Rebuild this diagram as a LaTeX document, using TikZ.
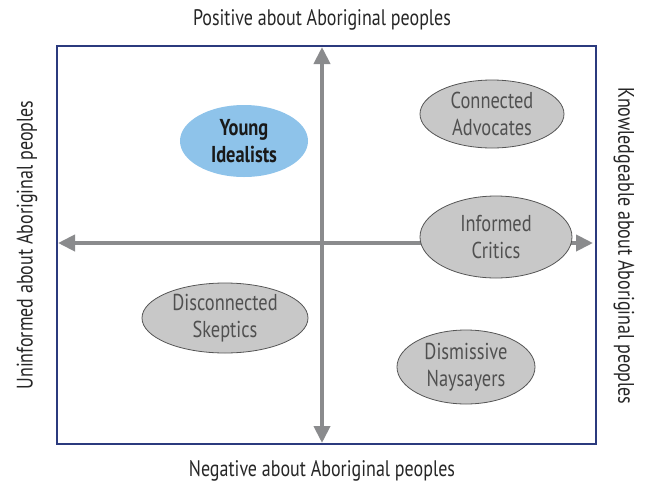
\documentclass[tikz,border=0pt]{standalone}
\usepackage{fontspec}
\setmainfont[FakeStretch=0.8]{PT Sans}
\usetikzlibrary{arrows.meta,shapes.geometric}

\definecolor{framenavy}{HTML}{2B3A7E}
\definecolor{axisgray}{HTML}{8A8B8D}
\definecolor{groupgray}{HTML}{C8C8C8}
\definecolor{groupedge}{HTML}{555555}
\definecolor{groupblue}{HTML}{8EC3EA}
\definecolor{labelgray}{HTML}{505050}

\begin{document}
\begin{tikzpicture}[x=1pt,y=-1pt,
  axis/.style={draw=axisgray, line width=4pt,
    {Triangle[width=16pt,length=17pt]}-{Triangle[width=16pt,length=17pt]}},
  group/.style={ellipse, draw=groupedge, fill=groupgray, line width=0.8pt,
    text=labelgray, align=center, inner sep=0pt,
    font=\fontsize{23}{27}\selectfont},
  side/.style={font=\fontsize{22.5}{26}\selectfont, text=black!85}]
  \useasboundingbox (0,0) rectangle (649,491);

  % frame of the map
  \draw[framenavy, line width=1.6pt] (57,46) rectangle (596,444);

  % ends of the two axes
  \coordinate (top end)    at (322,47);
  \coordinate (bottom end) at (322,443);
  \coordinate (left end)   at (58,243);
  \coordinate (right end)  at (593,243);

  \draw[axis] (bottom end) -- (top end);
  \draw[axis] (left end) -- (right end);

  % the five groups
  \node[group, fill=groupblue, draw=none, text=black!90,
        font=\fontsize{23}{27}\selectfont\bfseries,
        minimum width=128pt, minimum height=72pt] (young) at (244,141) {Young\\Idealists};
  \node[group, minimum width=144pt, minimum height=68pt] (connected) at (492,114) {Connected\\Advocates};
  \node[group, minimum width=152pt, minimum height=82pt] (informed) at (496,237) {Informed\\Critics};
  \node[group, minimum width=166pt, minimum height=70pt] (disconnected) at (225,318) {Disconnected\\Skeptics};
  \node[group, minimum width=138pt, minimum height=74pt] (dismissive) at (466,367) {Dismissive\\Naysayers};

  % axis labels
  \node[side] (positive) at (322,20) {Positive about Aboriginal peoples};
  \node[side] (negative) at (322,471) {Negative about Aboriginal peoples};
  \node[side, rotate=90] (uninformed) at (27,245) {Uninformed about Aboriginal peoples};
  \node[side, rotate=-90] (knowledgeable) at (624,246) {Knowledgeable about Aboriginal peoples};
\end{tikzpicture}
\end{document}
